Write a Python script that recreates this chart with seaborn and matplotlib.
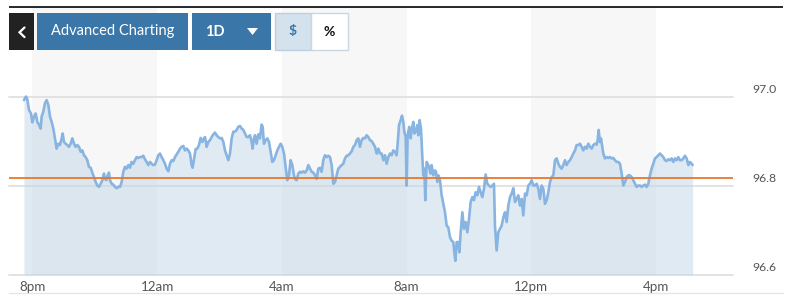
import matplotlib
matplotlib.use("Agg")
import matplotlib.pyplot as plt
import matplotlib.transforms as mtransforms
from matplotlib.patches import Rectangle, Polygon
from matplotlib.lines import Line2D
import seaborn as sns
import pandas as pd

# ---- data: minutes after 8pm, price ----
minutes = [
    -16.4, -12.5, -10.0, -6.7, -2.9, -0.3, 2.9, 6.1, 9.3, 12.5, 15.7, 17.6, 20.8, 24.0, 27.3, 30.5,
    33.7, 36.9, 40.1, 43.3, 46.5, 49.7, 52.9, 56.1, 58.1, 60.6, 63.8, 67.0, 70.2, 73.4, 76.6, 79.9,
    83.1, 86.3, 89.5, 92.7, 95.9, 99.1, 102.3, 105.5, 108.7, 111.9, 115.1, 118.4, 121.6, 124.8, 128.0,
    131.2, 134.4, 137.6, 139.5, 142.1, 144.7, 147.2, 149.1, 152.4, 155.6, 158.8, 162.0, 165.2, 168.4,
    171.6, 174.8, 178.0, 181.2, 184.4, 187.6, 190.8, 194.0, 197.3, 200.5, 203.7, 206.9, 210.1, 213.3,
    216.5, 219.7, 222.9, 226.1, 229.3, 232.5, 235.7, 239.0, 242.2, 245.4,
    248.6, 251.8, 255.0, 258.2, 261.4, 264.6, 267.8, 271.0, 274.3, 277.5, 280.7, 283.9, 287.1, 290.3,
    293.5, 296.7, 299.9, 303.1, 306.3, 308.2, 311.5, 314.0, 317.2, 320.4, 323.6, 326.8, 330.1, 332.0,
    335.2, 338.4, 341.6, 344.8, 348.0, 351.2, 354.4, 357.6, 360.9, 364.1, 367.3, 370.5, 373.7, 376.9,
    380.1, 383.3, 386.5, 389.7, 392.9, 396.1, 399.3, 402.6, 405.8, 409.0, 412.2, 415.4, 418.6, 421.8,
    423.7, 426.3, 428.2, 431.4, 434.6, 437.8, 441.0, 443.0, 445.5, 448.7, 451.9, 455.2, 458.4, 461.6,
    464.8, 468.0, 471.2, 474.4, 477.6, 480.8, 484.0, 487.2, 490.4, 493.6, 496.8, 500.1, 503.3,
    505.2, 508.4, 511.6, 514.8, 518.0, 521.2, 524.5, 527.7, 530.9, 534.1, 537.3, 540.5, 543.7, 546.9,
    550.1, 553.3, 556.5, 559.7, 562.9, 566.2, 569.4, 572.6, 575.8, 579.0, 582.2, 585.4, 588.6, 591.8,
    595.0, 598.2, 601.4, 604.6, 607.8, 611.0, 614.3, 617.5, 620.7, 623.9, 627.1, 630.3, 633.5, 636.7,
    639.9, 643.1, 646.3, 649.5, 652.7, 655.9, 659.2, 662.4, 665.6, 668.8, 672.0, 675.2, 678.4, 681.6,
    684.8, 688.0, 691.2, 694.4, 697.6, 700.9, 702.8, 705.4, 708.6, 711.1, 713.7, 715.6, 718.2, 720.1,
    722.0, 725.2, 727.8, 729.7, 732.9, 734.9, 737.4, 740.6, 742.6, 745.1, 747.7, 750.3, 752.2, 754.1,
    756.0, 758.6,
    760.5, 763.1, 766.3, 768.2, 771.5, 774.7, 776.6, 779.1, 781.1, 784.3, 787.5, 790.7, 793.9, 797.1,
    800.3, 803.5, 806.7, 809.9, 811.9, 813.8, 816.4, 819.6, 821.5, 824.1, 827.3, 830.5, 833.7, 836.9,
    840.1, 843.3, 846.5, 849.7, 852.9, 856.1, 859.3, 862.5, 865.8, 869.0, 872.2, 875.4, 878.6, 881.8,
    885.0, 888.2, 890.1, 893.3, 896.5, 899.8, 903.0, 906.2, 909.4, 912.6, 915.8, 919.0, 922.2, 925.4,
    928.6, 931.8, 935.0, 938.2, 941.4, 944.6, 947.9, 951.1, 954.3, 957.5, 960.7, 963.9, 967.1, 970.3,
    973.5, 976.7, 979.9, 983.1, 986.3, 989.6, 992.8, 996.0, 999.2, 1002.4, 1005.6, 1008.8, 1012.0,
    1015.2, 1018.4,
    1021.6, 1024.8, 1028.0, 1031.2, 1034.5, 1037.7, 1040.9, 1044.1, 1047.3, 1050.5, 1053.7, 1056.9,
    1060.1, 1063.3, 1066.5, 1069.7, 1072.9, 1076.1, 1079.4, 1082.6, 1085.8, 1087.7, 1089.6, 1092.2,
    1094.1, 1096.7, 1098.6, 1101.8, 1105.0, 1108.2, 1111.4, 1114.6, 1117.8, 1121.0, 1124.3, 1127.5,
    1130.7, 1133.9, 1137.1, 1140.3, 1143.5, 1146.7, 1149.9, 1153.1, 1156.3, 1159.5, 1162.7, 1165.9,
    1169.2, 1172.4, 1175.6, 1178.8, 1182.0, 1185.2, 1188.4, 1191.6, 1194.8, 1198.0, 1201.2, 1204.4,
    1207.7, 1210.9, 1214.1, 1217.3, 1220.5, 1223.7, 1226.9, 1230.1, 1233.3, 1236.5, 1239.7, 1242.9,
    1246.1, 1249.3, 1252.6, 1255.8, 1259.0, 1262.2, 1265.4, 1268.6, 1270.5,
]
price = [
    96.993, 97.001, 96.995, 96.971, 96.963, 96.943, 96.956, 96.963, 96.944, 96.938, 96.929, 96.956,
    96.967, 96.986, 96.993, 96.982, 96.956, 96.944, 96.929, 96.907, 96.884, 96.895, 96.892, 96.907,
    96.918, 96.899, 96.895, 96.892, 96.888, 96.895, 96.907, 96.895, 96.888, 96.892, 96.888, 96.877,
    96.880, 96.869, 96.865, 96.858, 96.843, 96.841, 96.830, 96.820, 96.809, 96.801, 96.798, 96.805,
    96.813, 96.828, 96.816, 96.813, 96.824, 96.830, 96.813, 96.805, 96.803, 96.798, 96.795, 96.798,
    96.798, 96.809, 96.832, 96.843, 96.839, 96.847, 96.841, 96.854, 96.850, 96.858, 96.865, 96.863,
    96.865, 96.865, 96.868, 96.860, 96.854, 96.847, 96.854, 96.850, 96.847, 96.848, 96.858, 96.869,
    96.873,
    96.865, 96.858, 96.850, 96.839, 96.833, 96.850, 96.858, 96.856, 96.865, 96.871, 96.877, 96.884,
    96.888, 96.890, 96.880, 96.884, 96.880, 96.873, 96.847, 96.841, 96.865, 96.883, 96.884, 96.892,
    96.908, 96.899, 96.907, 96.910, 96.888, 96.899, 96.903, 96.910, 96.916, 96.920, 96.914, 96.910,
    96.907, 96.908, 96.899, 96.880, 96.869, 96.858, 96.873, 96.907, 96.922, 96.922, 96.926, 96.933,
    96.935, 96.929, 96.926, 96.918, 96.910, 96.910, 96.914, 96.899, 96.884, 96.907, 96.914, 96.895,
    96.916, 96.907, 96.938, 96.933, 96.895, 96.903, 96.907, 96.899, 96.877, 96.854, 96.858, 96.869,
    96.880, 96.888, 96.895, 96.888, 96.873, 96.843, 96.813, 96.824, 96.858, 96.847, 96.824,
    96.816, 96.813, 96.828, 96.832, 96.830, 96.833, 96.830, 96.835, 96.847, 96.839, 96.832, 96.830,
    96.824, 96.816, 96.839, 96.841, 96.832, 96.858, 96.869, 96.865, 96.868, 96.865, 96.847, 96.805,
    96.809, 96.824, 96.839, 96.843, 96.847, 96.850, 96.862, 96.868, 96.869, 96.873, 96.878, 96.888,
    96.892, 96.903, 96.907, 96.888, 96.903, 96.908, 96.907, 96.914, 96.910, 96.903, 96.901, 96.895,
    96.888, 96.873, 96.884, 96.873, 96.873, 96.858, 96.869, 96.850, 96.865, 96.873, 96.869, 96.880,
    96.877, 96.869, 96.895, 96.937, 96.948, 96.958, 96.944, 96.922, 96.910, 96.801, 96.914, 96.933,
    96.907, 96.926, 96.944, 96.918, 96.922, 96.937, 96.914, 96.948, 96.929, 96.865, 96.824, 96.839,
    96.768, 96.854,
    96.850, 96.843, 96.828, 96.847, 96.824, 96.835, 96.832, 96.809, 96.824, 96.813, 96.779, 96.760,
    96.741, 96.711, 96.707, 96.685, 96.677, 96.674, 96.651, 96.632, 96.674, 96.674, 96.651, 96.696,
    96.741, 96.704, 96.719, 96.696, 96.726, 96.764, 96.775, 96.768, 96.786, 96.779, 96.798, 96.786,
    96.775, 96.794, 96.826, 96.805, 96.801, 96.798, 96.801, 96.805, 96.711, 96.655, 96.696, 96.704,
    96.711, 96.730, 96.741, 96.719, 96.756, 96.775, 96.783, 96.795, 96.764, 96.771, 96.779, 96.756,
    96.771, 96.734, 96.783, 96.779, 96.801, 96.805, 96.813, 96.801, 96.801, 96.805, 96.794, 96.771,
    96.801, 96.794, 96.760, 96.768, 96.786, 96.809, 96.820, 96.824, 96.858, 96.862, 96.850, 96.843,
    96.839,
    96.847, 96.858, 96.847, 96.854, 96.858, 96.865, 96.873, 96.880, 96.892, 96.892, 96.895, 96.888,
    96.880, 96.888, 96.884, 96.895, 96.888, 96.884, 96.892, 96.895, 96.893, 96.903, 96.926, 96.899,
    96.907, 96.888, 96.873, 96.862, 96.865, 96.863, 96.865, 96.862, 96.863, 96.858, 96.854, 96.854,
    96.850, 96.828, 96.801, 96.809, 96.820, 96.824, 96.824, 96.820, 96.813, 96.805, 96.798, 96.801,
    96.801, 96.798, 96.801, 96.803, 96.798, 96.805, 96.824, 96.839, 96.850, 96.862, 96.865, 96.869,
    96.873, 96.869, 96.865, 96.858, 96.856, 96.860, 96.858, 96.862, 96.854, 96.862, 96.858, 96.865,
    96.858, 96.858, 96.862, 96.868, 96.862, 96.847, 96.854, 96.850, 96.847,
]
prev_close = 96.817
band_starts = [0, 480, 960]
band_length = 240
x_ticks = [0, 240, 480, 720, 960, 1200]
x_labels = ["8pm", "12am", "4am", "8am", "12pm", "4pm"]
y_ticks = [96.6, 96.8, 97.0]
y_labels = ["96.6", "96.8", "97.0"]

df = pd.DataFrame({"minutes": minutes, "price": price})

sns.set_theme(style="white")
plt.rcParams['font.family'] = ['Lato', 'DejaVu Sans']

W, H = 793, 305
fig = plt.figure(figsize=(W / 100, H / 100), dpi=100)


def fx(px):
    return px / W


def fy(py):
    return 1 - py / H


ax = fig.add_axes([fx(9), fy(275), fx(733) - fx(9), fy(8) - fy(275)])
ax.set_xlim(-45.2, 1348.2)
ax.set_ylim(96.6, 97.2)
ax.set_facecolor("white")

for s in band_starts:
    ax.axvspan(s, s + band_length, color="#f7f7f7", lw=0, zorder=0)

for v in y_ticks:
    ax.axhline(v, color="#e0e0e0", lw=1.3, zorder=1, clip_on=False)

ax.fill_between(df["minutes"], df["price"], 96.6, color="#c3d6e6", alpha=0.5, lw=0, zorder=2)
sns.lineplot(data=df, x="minutes", y="price", ax=ax, color="#88b4e2", lw=1.9, zorder=3)
ax.axhline(prev_close, color="#e8772e", lw=1.3, zorder=4)

for sp in ax.spines.values():
    sp.set_visible(False)
ax.set_xlabel("")
ax.set_ylabel("")
ax.set_xticks(x_ticks, x_labels)
ax.tick_params(axis="x", length=3, width=1, color="#d0dbe6", pad=1.5, labelsize=9.6, labelcolor="#555555")
ax.set_yticks([])

off = mtransforms.ScaledTranslation(0, 7.5 / 100, fig.dpi_scale_trans)
ytrans = mtransforms.blended_transform_factory(ax.transAxes, ax.transData) + off
for v, lab in zip(y_ticks, y_labels):
    ax.text(1 + 19 / 724, v, lab, transform=ytrans, ha="left", va="center",
            fontsize=8.8, color="#555555", clip_on=False)

# top dark bar and bottom rule
fig.add_artist(Rectangle((fx(9), fy(8)), fx(783) - fx(9), 2 / H, transform=fig.transFigure,
                         color="#2b2d30", lw=0))
fig.add_artist(Line2D([fx(9), fx(783)], [fy(293), fy(293)], transform=fig.transFigure,
                      color="#e6e6e6", lw=1))


def button(x0, x1, face, edge=None):
    fig.add_artist(Rectangle((fx(x0), fy(50)), (x1 - x0) / W, 37 / H, transform=fig.transFigure,
                             facecolor=face, edgecolor=edge if edge else face, lw=1 if edge else 0))


button(9, 34, "#222222")
fig.add_artist(Line2D([fx(24.5), fx(19.5), fx(24.5)], [fy(27.5), fy(32.3), fy(37.1)],
                      transform=fig.transFigure, color="white", lw=1.6, solid_joinstyle="miter"))
button(37, 188, "#3a76a8")
fig.text(fx(112.5), fy(31.5), "Advanced Charting", color="white", fontsize=10.5, ha="center", va="center")
button(192, 271, "#3a76a8")
fig.text(fx(214.5), fy(31.5), "1D", color="white", fontsize=10.5, fontweight="bold", ha="center", va="center")
fig.add_artist(Polygon([[fx(247), fy(28)], [fx(258), fy(28)], [fx(252.5), fy(35)]], closed=True,
                       transform=fig.transFigure, color="white", lw=0))
button(275, 311, "#d4e2ed", "#bccfe0")
fig.text(fx(293), fy(31.5), "$", color="#3a76a8", fontsize=10, fontweight="bold", ha="center", va="center")
button(311, 348, "white", "#c8d7e4")
fig.text(fx(329.5), fy(31.5), "%", color="#111111", fontsize=10, fontweight="bold", ha="center", va="center")

fig.savefig("out.png", dpi=100)
